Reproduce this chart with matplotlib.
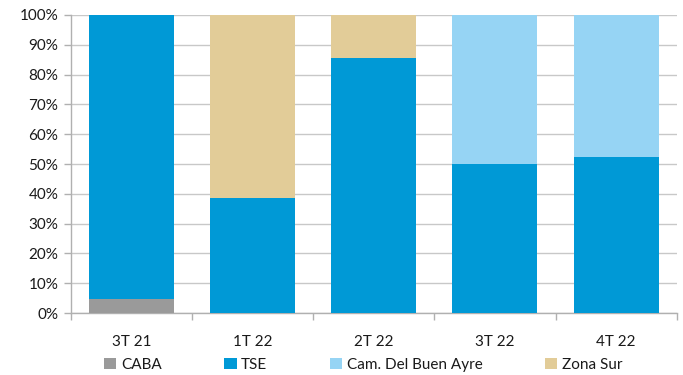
import matplotlib
matplotlib.use("Agg")
import matplotlib.pyplot as plt
from matplotlib.patches import Patch
import numpy as np

plt.rcParams['font.family'] = ['Lato', 'DejaVu Sans']

quarters = ["3T 21", "1T 22", "2T 22", "3T 22", "4T 22"]
caba = [4.7, 0.0, 0.0, 0.0, 0.0]
tse = [95.3, 38.7, 85.7, 50.0, 52.4]
cam_buen_ayre = [0.0, 0.0, 0.0, 50.0, 47.6]
zona_sur = [0.0, 61.3, 14.3, 0.0, 0.0]

series = [
    ("CABA", caba, "#9a9a9a"),
    ("TSE", tse, "#0099d6"),
    ("Cam. Del Buen Ayre", cam_buen_ayre, "#96d4f4"),
    ("Zona Sur", zona_sur, "#e2cc98"),
]

fig = plt.figure(figsize=(6.83, 3.75), dpi=100)
ax = fig.add_axes([0.1035, 0.1653, 0.8873, 0.7947])

x = np.arange(len(quarters))
bottom = np.zeros(len(quarters))
for name, vals, color in series:
    vals = np.array(vals)
    ax.bar(x, vals, bottom=bottom, width=0.7, color=color, zorder=3, linewidth=0)
    bottom += vals

ax.set_xlim(-0.5, len(quarters) - 0.5)
ax.set_ylim(0, 100)
ax.set_yticks(np.arange(0, 101, 10))
ax.set_yticklabels([f"{v}%" for v in range(0, 101, 10)])
ax.yaxis.grid(True, color="#c8c8c8", linewidth=1.0, zorder=0)

ax.set_xticks(x)
ax.set_xticklabels(quarters)
ax.set_xticks(np.arange(-0.5, len(quarters)), minor=True)
ax.tick_params(axis="x", which="major", length=0, pad=16)
ax.tick_params(axis="x", which="minor", length=5, color="#b0b0b0", width=1)
ax.tick_params(axis="y", length=5, color="#b0b0b0", width=1, pad=4)
ax.tick_params(labelsize=11, labelcolor="#1a1a1a")

for side in ["top", "right"]:
    ax.spines[side].set_visible(False)
for side in ["left", "bottom"]:
    ax.spines[side].set_color("#b0b0b0")
    ax.spines[side].set_linewidth(1)

handles = [Patch(facecolor=c, edgecolor="none", label=n) for n, _, c in series]
fig.legend(handles=handles, loc="center", bbox_to_anchor=(0.532, 0.027), ncol=4,
           frameon=False, fontsize=11, handlelength=0.8, handleheight=0.75,
           handletextpad=0.3, columnspacing=4.1, labelcolor="#1a1a1a")

fig.savefig("out.png", dpi=100)
